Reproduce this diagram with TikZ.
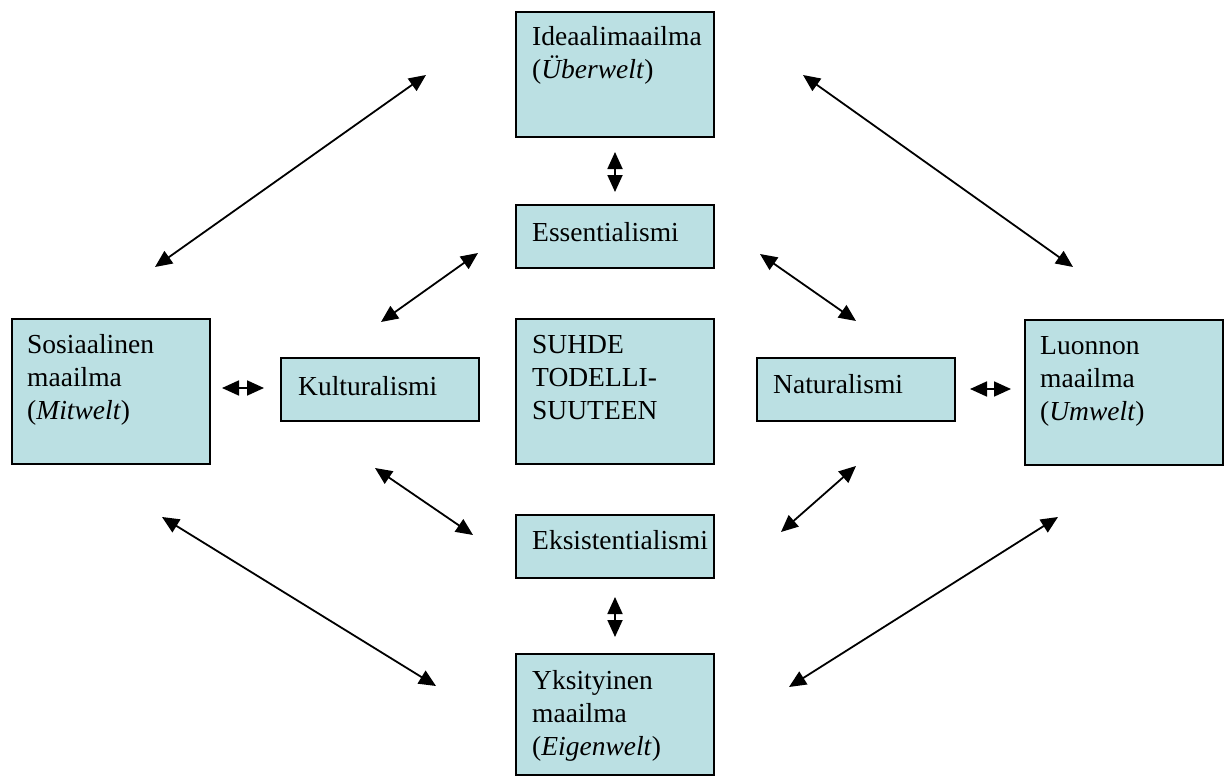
\documentclass[tikz,border=0pt]{standalone}
\usepackage{fontspec}
\setmainfont{Liberation Serif}
\usetikzlibrary{arrows.meta}
\definecolor{boxfill}{HTML}{BBE0E3}
\begin{document}
\begin{tikzpicture}[x=1pt,y=-1pt,
  box/.style={draw=black, fill=boxfill, line width=2pt, anchor=north west,
    inner sep=0pt, outer sep=0pt},
  wide/.style={box, minimum width=198pt},
  label/.style={anchor=base west, inner sep=0pt, text width=230pt, align=left,
    font=\fontsize{27.5}{33}\selectfont},
  dbl/.style={line width=1.8pt,
    {Triangle[length=17pt,width=15pt]}-{Triangle[length=17pt,width=15pt]}}]
\useasboundingbox (0,0) rectangle (1227,776);

% boxes of the central column
\node[wide, minimum height=125pt] (ideal) at (516,12) {};
\node[wide, minimum height=63pt]  (ess)   at (516,205) {};
\node[wide, minimum height=145pt] (suhde) at (516,319) {};
\node[wide, minimum height=63pt]  (eks)   at (516,515) {};
\node[wide, minimum height=121pt] (yks)   at (516,654) {};
% boxes of the side rows
\node[wide, minimum height=145pt] (sos)   at (12,319) {};
\node[wide, minimum height=63pt]  (kult)  at (281,358) {};
\node[wide, minimum height=63pt]  (nat)   at (757,358) {};
\node[wide, minimum height=145pt] (luon)  at (1025,320) {};

% texts, first baseline set below each box's top edge
\node[label] (idealT) at ([shift={(16pt,-34pt)}]ideal.north west) {Ideaalimaailma\\(\textit{Überwelt})};
\node[label] (essT)   at ([shift={(16pt,-36pt)}]ess.north west) {Essentialismi};
\node[label] (suhdeT) at ([shift={(16pt,-34pt)}]suhde.north west) {SUHDE\\TODELLI-\\SUUTEEN};
\node[label] (eksT)   at ([shift={(16pt,-34pt)}]eks.north west) {Eksistentialismi};
\node[label] (yksT)   at ([shift={(16pt,-35pt)}]yks.north west) {Yksityinen\\maailma\\(\textit{Eigenwelt})};
\node[label] (sosT)   at ([shift={(15pt,-34pt)}]sos.north west) {Sosiaalinen\\maailma\\(\textit{Mitwelt})};
\node[label] (kultT)  at ([shift={(17pt,-37pt)}]kult.north west) {Kulturalismi};
\node[label] (natT)   at ([shift={(16pt,-35pt)}]nat.north west) {Naturalismi};
\node[label] (luonT)  at ([shift={(15pt,-34pt)}]luon.north west) {Luonnon\\maailma\\(\textit{Umwelt})};

% free-standing arrow end points
\coordinate (v1a) at (615,152);  \coordinate (v1b) at (615,192);
\coordinate (v2a) at (615,597);  \coordinate (v2b) at (615,637);
\coordinate (h1a) at (222,388);  \coordinate (h1b) at (264,388);
\coordinate (h2a) at (970,389);  \coordinate (h2b) at (1011,389);
\coordinate (l1a) at (155,267);  \coordinate (l1b) at (426,75);
\coordinate (l2a) at (803,75);   \coordinate (l2b) at (1073,267);
\coordinate (l3a) at (162,517);  \coordinate (l3b) at (436,686);
\coordinate (l4a) at (789,687);  \coordinate (l4b) at (1058,517);
\coordinate (s1a) at (381,322);  \coordinate (s1b) at (478,253);
\coordinate (s2a) at (760,254);  \coordinate (s2b) at (856,321);
\coordinate (s3a) at (375,468);  \coordinate (s3b) at (473,535);
\coordinate (s4a) at (781,532);  \coordinate (s4b) at (856,466);

% double-headed connectors
\draw[dbl] (v1a) -- (v1b);
\draw[dbl] (v2a) -- (v2b);
\draw[dbl] (h1a) -- (h1b);
\draw[dbl] (h2a) -- (h2b);
\draw[dbl] (l1a) -- (l1b);
\draw[dbl] (l2a) -- (l2b);
\draw[dbl] (l3a) -- (l3b);
\draw[dbl] (l4a) -- (l4b);
\draw[dbl] (s1a) -- (s1b);
\draw[dbl] (s2a) -- (s2b);
\draw[dbl] (s3a) -- (s3b);
\draw[dbl] (s4a) -- (s4b);
\end{tikzpicture}
\end{document}
